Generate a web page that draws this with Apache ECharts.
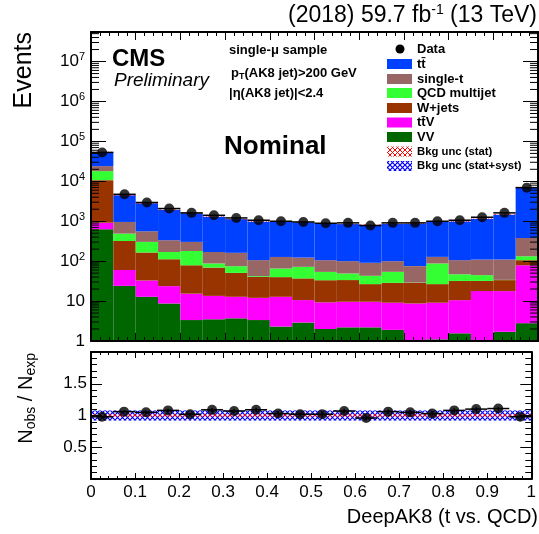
<!DOCTYPE html>
<html><head><meta charset="utf-8">
<script src="https://cdn.jsdelivr.net/npm/echarts@6/dist/echarts.min.js"></script>
<style>html,body{margin:0;padding:0;background:#fff}#c{width:539px;height:534px}</style>
</head><body><div id="c"></div><script>
const FONT = '"Liberation Sans", Arial, Helvetica, sans-serif';

// ---- data ----
const binEdges = [0,0.05,0.1,0.15,0.2,0.25,0.3,0.35,0.4,0.45,0.5,0.55,0.6,0.65,0.7,0.75,0.8,0.85,0.9,0.95,1.0];
const dataObs = [52900,4730,2950,2080,1620,1410,1210,1060,1000,960,890,910,780,910,910,1000,1060,1260,1620,6950];
const vv      = [630,24,12.8,8.7,3.35,3.5,3.7,3.35,2.3,2.9,2.0,2.2,2.2,1.9,0.8,1.1,1.56,1.06,1.7,2.8];
const ttv     = [280,36,20,15,12,10,9.1,8.7,10.5,7.7,7.3,7.4,7.4,7.2,7.9,8,9,16.7,16.1,76];
const wjets   = [9800,260,132,88,63.5,55.5,38,28,27,26.4,24,24,17,19.5,19.9,17.5,21.4,14.2,15.7,27];
const qcd     = [7300,170,139,58,101,18.6,24,2,25.6,35,20.5,15.5,16.4,25.4,0.5,61,15,12.7,0.5,27];
const singleT = [6000,470,256,165,124,82,87,64,62,51,52,51,48,46,46,40.4,59,65,76,247];
const ttbar   = [30000,3500,2250,1590,1286,1125,968,866,843,818,767,750,721,758,792,843,875,1035,1350,6710];
const statUnc = [0.02,0.02,0.02,0.02,0.02,0.02,0.02,0.02,0.02,0.02,0.02,0.02,0.02,0.02,0.02,0.02,0.02,0.02,0.02,0.02];
const totUnc  = [0.08,0.08,0.08,0.08,0.08,0.08,0.08,0.08,0.08,0.08,0.08,0.08,0.08,0.08,0.08,0.08,0.08,0.08,0.08,0.08];
const xTickLabels = ['0','0.1','0.2','0.3','0.4','0.5','0.6','0.7','0.8','0.9','1'];
const ratioTickLabels = ['0.5','1','1.5'];

const components = [
  {name:'VV', vals:vv, color:'#006600'},
  {name:'ttV', vals:ttv, color:'#ff00ff'},
  {name:'W+jets', vals:wjets, color:'#993300'},
  {name:'QCD multijet', vals:qcd, color:'#33ff33'},
  {name:'single-t', vals:singleT, color:'#996666'},
  {name:'tt', vals:ttbar, color:'#0040ff'}
];
const nb = dataObs.length;
const cum = [];
components.forEach((c,k)=>{ cum.push(c.vals.map((v,i)=> v + (k>0?cum[k-1][i]:0))); });
const total = cum[cum.length-1];
const ratio = dataObs.map((d,i)=> d/total[i]);

function hatch(color, lw){
  const s=5, c=document.createElement('canvas'); c.width=s; c.height=s;
  const g=c.getContext('2d'); g.strokeStyle=color; g.lineWidth=lw;
  g.beginPath(); g.moveTo(0,0); g.lineTo(s,s); g.moveTo(s,0); g.lineTo(0,s); g.stroke();
  return {image:c, repeat:'repeat'};
}
const hatchRed = hatch('#ff0000', 1.0), hatchBlue = hatch('#0000ff', 1.2);

function rectRender(fill){
  return function(params, api){
    const a = api.coord([api.value(0), api.value(3)]);
    const b = api.coord([api.value(1), api.value(2)]);
    return {type:'rect', shape:{x:a[0], y:a[1], width:b[0]-a[0], height:b[1]-a[1]}, style:{fill:fill}};
  };
}
const series = [];
components.forEach((c,k)=>{
  const d = [];
  for(let i=0;i<nb;i++){
    const lo = Math.max(k>0?cum[k-1][i]:1, 1), hi = Math.max(cum[k][i], 1);
    d.push([binEdges[i], binEdges[i+1], lo, hi]);
  }
  series.push({type:'custom', name:c.name, xAxisIndex:0, yAxisIndex:0, z:2, clip:true,
    encode:{x:[0,1], y:[2,3]}, data:d, renderItem:rectRender(c.color)});
});
// top stat band
series.push({type:'custom', xAxisIndex:0, yAxisIndex:0, z:3, clip:true, encode:{x:[0,1],y:[2,3]},
  data: total.map((t,i)=>[binEdges[i],binEdges[i+1],t*(1-statUnc[i]),t*(1+statUnc[i])]), renderItem:rectRender(hatchRed)});
// ratio bands
series.push({type:'custom', xAxisIndex:2, yAxisIndex:2, z:3, clip:true, encode:{x:[0,1],y:[2,3]},
  data: totUnc.map((u,i)=>[binEdges[i],binEdges[i+1],1-u,1+u]), renderItem:rectRender(hatchBlue)});
series.push({type:'custom', xAxisIndex:2, yAxisIndex:2, z:4, clip:true, encode:{x:[0,1],y:[2,3]},
  data: statUnc.map((u,i)=>[binEdges[i],binEdges[i+1],1-u,1+u]), renderItem:rectRender(hatchRed)});

function errRender(params, api){
  const x0=api.value(0), x1=api.value(1), v=api.value(2), lo=api.value(3), hi=api.value(4);
  const xc=(x0+x1)/2;
  const a=api.coord([x0,v]), b=api.coord([x1,v]), c1=api.coord([xc,lo]), c2=api.coord([xc,hi]);
  return {type:'group', children:[
    {type:'line', shape:{x1:a[0],y1:a[1],x2:b[0],y2:b[1]}, style:{stroke:'#000', lineWidth:1.5}},
    {type:'line', shape:{x1:c1[0],y1:c1[1],x2:c2[0],y2:c2[1]}, style:{stroke:'#000', lineWidth:1.5}}
  ]};
}
series.push({type:'custom', xAxisIndex:0, yAxisIndex:0, z:5, clip:true, encode:{x:[0,1],y:[2,3,4]},
  data: dataObs.map((d,i)=>[binEdges[i],binEdges[i+1],d,Math.max(d-Math.sqrt(d),1),d+Math.sqrt(d)]), renderItem:errRender});
series.push({type:'scatter', xAxisIndex:0, yAxisIndex:0, z:6, symbolSize:10, itemStyle:{color:'#000'},
  data: dataObs.map((d,i)=>[(binEdges[i]+binEdges[i+1])/2, d])});
series.push({type:'custom', xAxisIndex:2, yAxisIndex:2, z:5, clip:true, encode:{x:[0,1],y:[2,3,4]},
  data: ratio.map((r,i)=>{const e=Math.sqrt(dataObs[i])/total[i]; return [binEdges[i],binEdges[i+1],r,r-e,r+e];}), renderItem:errRender});
series.push({type:'scatter', xAxisIndex:2, yAxisIndex:2, z:6, symbolSize:10, itemStyle:{color:'#000'},
  data: ratio.map((r,i)=>[(binEdges[i]+binEdges[i+1])/2, r])});

// log minor ticks (left and right)
const logMinor = [];
for(let e=0;e<8;e++) for(let m=2;m<=9;m++){ const v=m*Math.pow(10,e); if(v<5.5e7) logMinor.push([0.5,v]); }
series.push({type:'custom', xAxisIndex:0, yAxisIndex:0, z:20, encode:{x:0,y:1}, data:logMinor,
  renderItem:function(params, api){
    const l=api.coord([0,api.value(1)]), r=api.coord([1,api.value(1)]);
    return {type:'group', children:[
      {type:'line', shape:{x1:l[0],y1:l[1],x2:l[0]+8,y2:l[1]}, style:{stroke:'#000',lineWidth:1}},
      {type:'line', shape:{x1:r[0],y1:r[1],x2:r[0]-8,y2:r[1]}, style:{stroke:'#000',lineWidth:1}}
    ]};
  }});

function xax(gi, pos, showLabel, maj, min){
  return {type:'value', gridIndex:gi, position:pos, min:0, max:1, interval:0.1, z:10,
    axisLine:{show:true, onZero:false, lineStyle:{color:'#000', width:2}},
    axisTick:{show:true, inside:true, length:maj, lineStyle:{color:'#000', width:1}},
    minorTick:{show:true, splitNumber:5, length:min, lineStyle:{color:'#000', width:1}},
    splitLine:{show:false}, minorSplitLine:{show:false},
    axisLabel:{show:showLabel, margin:5, fontSize:17, color:'#000', fontFamily:FONT, alignMaxLabel:'center', alignMinLabel:'center',
      formatter:v=>xTickLabels[Math.round(v*10)]}};
}
function logAx(pos, showLabel){
  return {type:'log', gridIndex:0, position:pos, logBase:10, min:1, max:5.5e7, splitNumber:8, z:10,
    axisLine:{show:true, onZero:false, lineStyle:{color:'#000', width:2}},
    axisTick:{show:true, inside:true, length:15, lineStyle:{color:'#000', width:1}},
    minorTick:{show:false}, splitLine:{show:false},
    axisLabel:{show:showLabel, margin:6, showMaxLabel:false, color:'#000', fontFamily:FONT,
      formatter:v=>{const l=Math.log10(v), e=Math.round(l); if(Math.abs(l-e)>0.01) return '';
        if(e===0) return '{b|1}'; if(e===1) return '{b|10}'; return '{b|10}{s|'+e+'}';},
      rich:{b:{fontSize:17, fontFamily:FONT, color:'#000'}, s:{fontSize:11, fontFamily:FONT, color:'#000', verticalAlign:'bottom', padding:[0,0,9,0]}}}};
}
function ratioAx(pos, showLabel){
  return {type:'value', gridIndex:1, position:pos, min:0, max:2, interval:0.5, z:10,
    axisLine:{show:true, onZero:false, lineStyle:{color:'#000', width:2}},
    axisTick:{show:true, inside:true, length:11, lineStyle:{color:'#000', width:1}},
    minorTick:{show:true, splitNumber:5, length:6, lineStyle:{color:'#000', width:1}},
    splitLine:{show:false}, minorSplitLine:{show:false},
    axisLabel:{show:showLabel, margin:4, fontSize:17, color:'#000', fontFamily:FONT, showMinLabel:false, showMaxLabel:false,
      formatter:v=>{const i=Math.round(v*2)-1; return (i>=0&&i<3)?ratioTickLabels[i]:'';}}};
}

const legendItems = [
  {t:'Data', type:'dot', fs:13},
  {t:'t{a|t\u0304}', type:'rect', fill:'#0040ff', fs:13},
  {t:'single-t', type:'rect', fill:'#996666', fs:13},
  {t:'QCD multijet', type:'rect', fill:'#33ff33', fs:13},
  {t:'W+jets', type:'rect', fill:'#993300', fs:13},
  {t:'t{a|t\u0304}V', type:'rect', fill:'#ff00ff', fs:13},
  {t:'VV', type:'rect', fill:'#006600', fs:13},
  {t:'Bkg unc (stat)', type:'rect', fill:hatchRed, fs:11.3},
  {t:'Bkg unc (stat+syst)', type:'rect', fill:hatchBlue, fs:11.3}
];
const legY = [49,64,79,93,108,122.5,137,151.5,166];
const graphics = [];
legendItems.forEach((it,i)=>{
  const y=legY[i];
  if(it.type==='dot') graphics.push({type:'circle', shape:{cx:400, cy:y, r:4.5}, style:{fill:'#000'}});
  else graphics.push({type:'rect', shape:{x:387, y:y-5, width:25, height:10}, style:{fill:it.fill}});
  graphics.push({type:'text', x:417, y:y, style:{text:it.t, fontSize:it.fs, fontWeight:'bold', fontFamily:FONT, fill:'#000', verticalAlign:'middle',
    rich:{a:{fontSize:it.fs, fontWeight:'bold', fontFamily:FONT, fill:'#000'}}}});
});
graphics.push(
  {type:'text', x:537, y:16, style:{text:'{a|(2018) 59.7 fb}{s|-1}{a| (13 TeV)}', align:'right', verticalAlign:'middle',
    rich:{a:{fontSize:23, fontFamily:FONT, fill:'#000'}, s:{fontSize:14, fontFamily:FONT, fill:'#000', verticalAlign:'bottom', padding:[0,0,11,0]}}}},
  {type:'text', x:112, y:59, style:{text:'CMS', fontSize:24, fontWeight:'bold', fontFamily:FONT, fill:'#000', verticalAlign:'middle'}},
  {type:'text', x:114, y:81, style:{text:'Preliminary', fontSize:19, fontStyle:'italic', fontFamily:FONT, fill:'#000', verticalAlign:'middle'}},
  {type:'text', x:229, y:50, style:{text:'single-\u03bc sample', fontSize:13, fontWeight:'bold', fontFamily:FONT, fill:'#000', verticalAlign:'middle'}},
  {type:'text', x:231, y:73, style:{text:'{a|p}{b|T}{a|(AK8 jet)>200 GeV}', verticalAlign:'middle',
    rich:{a:{fontSize:13, fontWeight:'bold', fontFamily:FONT, fill:'#000'}, b:{fontSize:9, fontWeight:'bold', fontFamily:FONT, fill:'#000', verticalAlign:'top', padding:[8,0,0,0]}}}},
  {type:'text', x:229, y:93, style:{text:'|\u03b7(AK8 jet)|<2.4', fontSize:13, fontWeight:'bold', fontFamily:FONT, fill:'#000', verticalAlign:'middle'}},
  {type:'text', x:224, y:147, style:{text:'Nominal', fontSize:26, fontWeight:'bold', fontFamily:FONT, fill:'#000', verticalAlign:'middle'}},
  {type:'text', x:24, y:32, rotation:Math.PI/2, style:{text:'Events', fontSize:25, fontFamily:FONT, fill:'#000', align:'right', verticalAlign:'middle'}},
  {type:'text', x:26, y:353, rotation:Math.PI/2, style:{text:'{a|N}{b|obs}{a| / N}{b|exp}', align:'right', verticalAlign:'middle',
    rich:{a:{fontSize:20, fontFamily:FONT, fill:'#000'}, b:{fontSize:14, fontFamily:FONT, fill:'#000', verticalAlign:'top', padding:[10,0,0,0]}}}},
  {type:'text', x:538, y:517, style:{text:'DeepAK8 (t vs. QCD)', fontSize:20, fontFamily:FONT, fill:'#000', align:'right', verticalAlign:'middle'}}
);

const chart = echarts.init(document.getElementById('c'), null, {renderer:'canvas'});
chart.setOption({
  animation:false, backgroundColor:'#fff',
  grid:[{left:91, top:32, width:447, height:309}, {left:91, top:352, width:447, height:127}],
  xAxis:[xax(0,'bottom',false,8,4), xax(0,'top',false,8,4), xax(1,'bottom',true,6,3), xax(1,'top',false,6,3)],
  yAxis:[logAx('left',true), logAx('right',false), ratioAx('left',true), ratioAx('right',false)],
  series:series,
  graphic:graphics
});
</script></body></html>
